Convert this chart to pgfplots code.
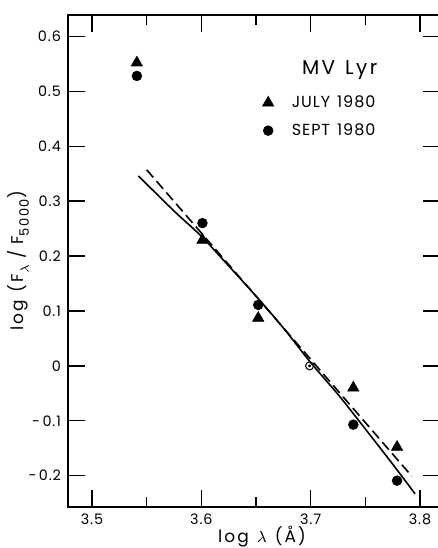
\documentclass[border=0pt]{standalone}
\usepackage{fontspec}
\setmainfont{Poppins}[LetterSpace=6]
\newfontfamily\wide{Poppins}[LetterSpace=12]
\usepackage{pgfplots}
\usepackage{pgfplotstable}
\pgfplotsset{compat=1.18}

\pgfplotstableread{
x y
3.541 0.552
3.601 0.229
3.652 0.087
3.739 -0.040
3.779 -0.148
}\july
\pgfplotstableread{
x y
3.541 0.528
3.601 0.260
3.652 0.111
3.739 -0.107
3.779 -0.209
}\sept
\pgfplotstableread{
x y
3.5424 0.346
3.575 0.282
3.600 0.236
3.625 0.182
3.650 0.127
3.675 0.069
3.700 0.006
3.725 -0.052
3.750 -0.115
3.775 -0.179
3.7955 -0.233
}\solidfit
\pgfplotstableread{
x y
3.550 0.357
3.7925 -0.201
}\dashfit

\begin{document}
\begin{tikzpicture}
\begin{axis}[
  scale only axis,
  width=186pt, height=246pt,
  xmin=3.478, xmax=3.8183,
  ymin=-0.257, ymax=0.639,
  axis line style={line width=1pt},
  every tick/.style={black, line width=0.7pt},
  tick align=inside,
  major tick length=8.5pt,
  minor tick length=5pt,
  xtick={3.5,3.6,3.7,3.8},
  xticklabels={3.5,3.6,3.7,3.8},
  minor xtick={3.55,3.65,3.75},
  ytick={-0.2,-0.1,0,0.1,0.2,0.3,0.4,0.5,0.6},
  yticklabels={{-\,0.2},{-\,0.1},0,0.1,0.2,0.3,0.4,0.5,0.6},
  ticklabel style={font=\fontsize{7.2}{8}\selectfont},
  /pgf/number format/assume math mode=true,
  xlabel={\wide log\hspace{4pt}$\lambda$\hspace{4pt}(Å)},
  ylabel={\wide log\hspace{4pt}(F\raisebox{-0.3em}{$\scriptstyle\lambda$}\hspace{3pt}/\hspace{3pt}F\raisebox{-0.3em}{\fontsize{6.5}{7}\selectfont 5000})},
  label style={font=\fontsize{8.5}{9}\selectfont},
  xlabel style={yshift=6.5pt, xshift=4pt},
  ylabel style={at={(ticklabel cs:0.5)}, yshift=-7pt},
  legend style={draw=none, fill=none, at={(axis cs:3.6557,0.5005)}, anchor=north west,
     inner sep=0pt, row sep=2.5pt, font=\fontsize{8}{9}\selectfont},
  legend cell align=left,
  legend image code/.code={\draw[mark repeat=2,mark phase=2,#1] plot coordinates {(0pt,0pt)(4pt,0pt)(8pt,0pt)};},
]
\addplot[only marks, mark=triangle*, mark size=3.2pt, black] table[x=x,y=y]{\july};
\addlegendentry{\hspace{7pt}JULY\hspace{3.5pt}1980}
\addplot[only marks, mark=*, mark size=2.4pt, black] table[x=x,y=y]{\sept};
\addlegendentry{\hspace{7pt}SEPT\hspace{3.5pt}1980}
\addplot[black, line width=0.8pt, smooth, forget plot] table[x=x,y=y]{\solidfit};
\addplot[black, line width=0.8pt, dash pattern=on 5pt off 2.5pt, forget plot] table[x=x,y=y]{\dashfit};
\addplot[only marks, mark=o, mark size=2pt, black, line width=0.5pt, forget plot] coordinates {(3.699,0)};
\addplot[only marks, mark=*, mark size=0.5pt, black, forget plot] coordinates {(3.699,0)};
\node[font=\fontsize{10}{11}\selectfont\wide] at (axis cs:3.7265,0.539) {MV\hspace{5pt}Lyr};
\end{axis}
\pgfresetboundingbox
\path[use as bounding box] ([shift={(-34pt,-20.5pt)}]current axis.south west) rectangle ([shift={(-1.5pt,7.5pt)}]current axis.north east);
\end{tikzpicture}
\end{document}
